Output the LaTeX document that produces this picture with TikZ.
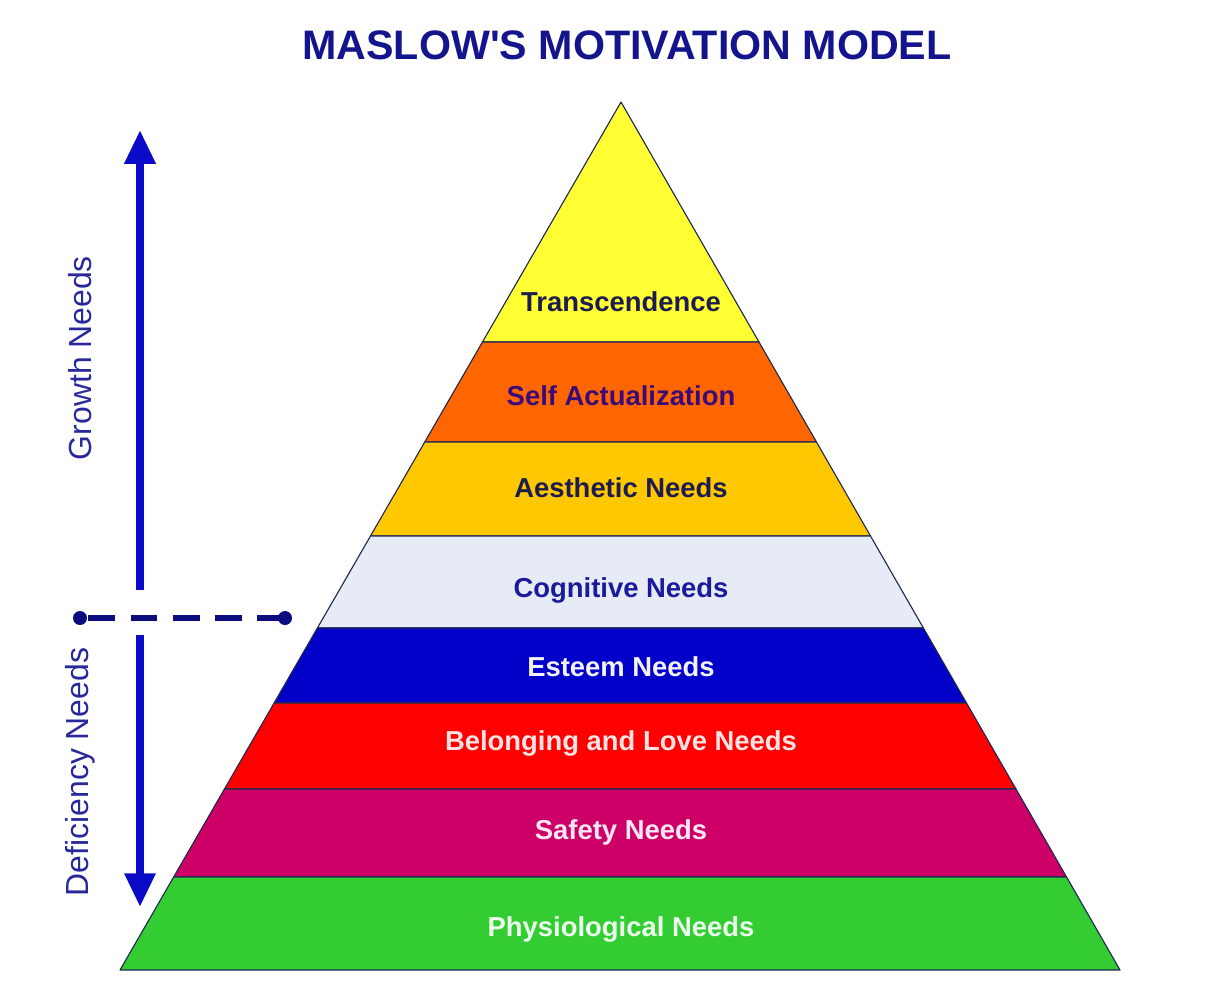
\documentclass[tikz,border=0pt]{standalone}
\usepackage{fontspec}
\setmainfont{Liberation Sans}
\usepackage{tikz}
\usetikzlibrary{calc,arrows.meta}

\definecolor{titleblue}{HTML}{14148C}
\definecolor{sideblue}{HTML}{28289A}
\definecolor{arrowblue}{HTML}{0A0AC8}
\definecolor{dashblue}{HTML}{0C0C80}
\definecolor{edgecol}{HTML}{1E2850}
\definecolor{transc}{HTML}{FFFF33}
\definecolor{selfact}{HTML}{FF6600}
\definecolor{aesth}{HTML}{FFC800}
\definecolor{cogn}{HTML}{E6EBF5}
\definecolor{esteem}{HTML}{0000C8}
\definecolor{belong}{HTML}{FF0000}
\definecolor{safety}{HTML}{CC0066}
\definecolor{physio}{HTML}{33CC33}
\definecolor{navytxt}{HTML}{1C1C50}
\definecolor{purptxt}{HTML}{3C0A78}
\definecolor{cogtxt}{HTML}{1A1A9A}
\definecolor{esttxt}{HTML}{F2F2FF}
\definecolor{beltxt}{HTML}{FFE2E2}
\definecolor{saftxt}{HTML}{FFE6F4}
\definecolor{phytxt}{HTML}{ECFFEC}

\begin{document}
\begin{tikzpicture}[x=0.025cm, y=-0.025cm, >=Triangle,
		layertext/.style={font=\bfseries\fontsize{19.5}{23}\selectfont, inner sep=0pt},
		sidetext/.style={font=\fontsize{22.7}{26}\selectfont, text=sideblue, rotate=90, inner sep=0pt}]
			\useasboundingbox (0,0) rectangle (1211,987);
			\node[font=\bfseries\fontsize{29.3}{34}\selectfont, text=titleblue] (title) at (627,45) {MASLOW\textquotesingle S MOTIVATION MODEL};
			% pyramid, layer by layer
			\foreach \ya/\yb/\ty/\fc/\tc/\lbl/\nm in {
					102/342/302/transc/navytxt/Transcendence/trans,
					342/442/396/selfact/purptxt/Self Actualization/self,
					442/536/488/aesth/navytxt/Aesthetic Needs/aest,
					536/628/590/cogn/cogtxt/Cognitive Needs/cogn,
					628/703/667/esteem/esttxt/Esteem Needs/este,
					703/789/743/belong/beltxt/Belonging and Love Needs/belo,
					789/877/832/safety/saftxt/Safety Needs/safe,
					877/970/929/physio/phytxt/Physiological Needs/phys}{
				\pgfmathsetmacro{\xal}{621-0.5772*(\ya-102)}
				\pgfmathsetmacro{\xar}{621+0.5749*(\ya-102)}
				\pgfmathsetmacro{\xbl}{621-0.5772*(\yb-102)}
				\pgfmathsetmacro{\xbr}{621+0.5749*(\yb-102)}
				\filldraw[fill=\fc, draw=edgecol, line width=0.8pt, line join=round] (\xal,\ya) -- (\xar,\ya) -- (\xbr,\yb) -- (\xbl,\yb) -- cycle;
				\node[layertext, text=\tc] (\nm) at (621,\ty) {\lbl};
			}
			% side arrows
			\coordinate (gbot) at (140,590);
			\coordinate (gtop) at (140,130);
			\coordinate (dtop) at (140,635);
			\coordinate (dbot) at (140,907);
			\draw[->, arrowblue, line width=5.6pt, arrows={-Triangle[length=24pt, width=21pt]}] (gbot) -- (gtop);
			\draw[->, arrowblue, line width=5.6pt, arrows={-Triangle[length=24pt, width=21pt]}] (dtop) -- (dbot);
			\coordinate (dl) at (80,618);
			\coordinate (dr) at (285,618);
			\draw[dashblue, line width=3.6pt, dash pattern=on 19pt off 11pt, dash phase=-6pt] (dl) -- (dr);
			\fill[dashblue] (dl) circle (7) (dr) circle (7);
			\node[sidetext] (growth) at (80,358) {Growth Needs};
			\node[sidetext] (defic) at (80,772) {Deficiency Needs};
		\end{tikzpicture}
\end{document}
